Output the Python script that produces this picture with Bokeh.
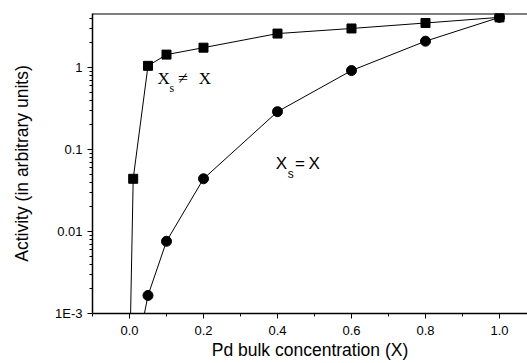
from bokeh.plotting import figure
from bokeh.models import FixedTicker, Span, Label, Range1d
from bokeh.embed import file_html
from bokeh.resources import INLINE

# data
x_sq = [0.0, 0.01, 0.05, 0.1, 0.2, 0.4, 0.6, 0.8, 1.0]
y_sq = [2e-4, 0.044, 1.05, 1.44, 1.75, 2.6, 3.0, 3.5, 4.1]
x_ci = [0.0, 0.05, 0.1, 0.2, 0.4, 0.6, 0.8, 1.0]
y_ci = [1.2e-4, 0.00166, 0.0076, 0.044, 0.29, 0.92, 2.1, 4.1]
x_ticks = [0.0, 0.2, 0.4, 0.6, 0.8, 1.0]
x_minor = [-0.1, 0.1, 0.3, 0.5, 0.7, 0.9]
y_ticks = [0.001, 0.01, 0.1, 1]
y_tick_labels = ["1E-3", "0.01", "0.1", "1"]

sans = "Liberation Sans"
serif = "Liberation Serif"
Y_TOP = 4.57

p = figure(frame_width=435, frame_height=300, y_axis_type="log",
           x_range=Range1d(-0.1, 1.0757), y_range=Range1d(0.001, Y_TOP),
           output_backend="svg", toolbar_location=None,
           min_border_left=92, min_border_right=0, min_border_top=13, min_border_bottom=0)
p.outline_line_color = None
p.xgrid.visible = False
p.ygrid.visible = False
p.background_fill_color = "white"
p.border_fill_color = "white"

p.add_layout(Span(location=Y_TOP, dimension="width", line_color="black", line_width=2))

p.line(x_sq, y_sq, line_color="black", line_width=1)
p.scatter(x_sq, y_sq, marker="square", size=9, color="black")
p.line(x_ci, y_ci, line_color="black", line_width=1)
p.scatter(x_ci, y_ci, marker="circle", size=10, color="black")

# annotations
def lab(x, y, t, font, size):
    p.add_layout(Label(x=x, y=y, text=t, text_font=font, text_font_size=size,
                       text_color="black", text_baseline="alphabetic"))

lab(0.076, 0.734, "X", serif, "17px")
lab(0.108, 0.56, "s", serif, "12px")
lab(0.131, 0.745, "≠", serif, "18px")
lab(0.187, 0.734, "X", serif, "17px")

lab(0.395, 0.0675, "X", sans, "17px")
lab(0.428, 0.051, "s", sans, "12px")
lab(0.447, 0.0675, "=", sans, "17px")
lab(0.484, 0.0675, "X", sans, "17px")

for ax in (p.xaxis[0], p.yaxis[0]):
    ax.axis_line_width = 1.5
    ax.axis_line_color = "black"
    ax.major_tick_line_color = "black"
    ax.minor_tick_line_color = "black"
    ax.major_tick_in = 0
    ax.major_tick_out = 5
    ax.minor_tick_in = 0
    ax.minor_tick_out = 3
    ax.major_label_text_font = sans
    ax.major_label_text_font_size = "13px"
    ax.major_label_text_color = "black"
    ax.axis_label_text_font = sans
    ax.axis_label_text_font_size = "17.5px"
    ax.axis_label_text_font_style = "normal"
    ax.axis_label_text_color = "black"

p.xaxis.ticker = FixedTicker(ticks=x_ticks, minor_ticks=x_minor)
p.xaxis.major_label_overrides = {t: f"{t:.1f}" for t in x_ticks}
p.xaxis.major_label_standoff = 7
p.xaxis.axis_label = "Pd bulk concentration (X)"
p.xaxis.axis_label_standoff = 2

y_minor = [m * d for d in [0.001, 0.01, 0.1, 1] for m in range(2, 10)]
p.yaxis.ticker = FixedTicker(ticks=y_ticks, minor_ticks=y_minor)
p.yaxis.major_label_overrides = dict(zip(y_ticks, y_tick_labels))
p.yaxis.major_label_standoff = 5
p.yaxis.axis_label = "Activity (in arbitrary units)"
p.yaxis.axis_label_standoff = 20

open("out.html", "w").write(file_html(p, INLINE))
